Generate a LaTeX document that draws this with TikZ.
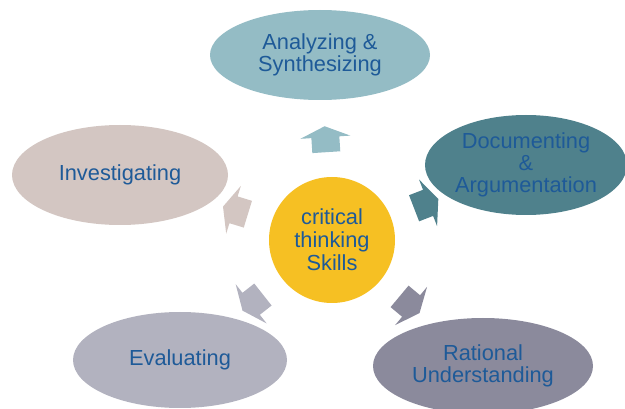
\documentclass[tikz,border=0pt]{standalone}
\usepackage{fontspec}
\setmainfont{Liberation Sans}
\usetikzlibrary{shapes.geometric,calc}

\definecolor{txtblue}{HTML}{1E5A98}
\definecolor{cAnalyze}{HTML}{94BCC5}
\definecolor{cDocument}{HTML}{4F818C}
\definecolor{cInvest}{HTML}{D3C6C2}
\definecolor{cEval}{HTML}{B2B2BF}
\definecolor{cRational}{HTML}{8B8A9C}
\definecolor{cCore}{HTML}{F6C023}

\tikzset{
  skill/.style={ellipse, inner sep=0pt, minimum width=#1, text=txtblue,
    align=center, font=\fontsize{21.8}{22}\selectfont},
  core/.style={circle, fill=cCore, minimum size=126pt, inner sep=0pt,
    text=txtblue, align=center, font=\fontsize{21.8}{23}\selectfont},
}

% block arrow pointing from node #1 towards node #2, filled with colour #3
\newcommand\outarrow[3]{%
  \path let \p1=(#1), \p2=(#2), \n1={atan2(\y2-\y1,\x2-\x1)} in
    \pgfextra{\xdef\arrang{\n1}};
  \fill[#3, shift={(#1)}, rotate=\arrang]
    (88,-14) -- (103,-14) -- (103,-25) -- (114,0) -- (103,25) -- (103,14)
    -- (88,14) -- cycle;
}

\begin{document}
\begin{tikzpicture}[x=1pt, y=-1pt]
  \useasboundingbox (0,0) rectangle (625,409);

  \node[core] (core) at (332,240) {critical\\thinking\\Skills};

  \node[skill=220pt, minimum height=90pt, fill=cAnalyze] (analyze) at (320,55)
    {Analyzing \&\\Synthesizing};
  \node[skill=202pt, minimum height=100pt, fill=cDocument] (document) at (526,165)
    {Documenting\\\&\\Argumentation};
  \node[skill=216pt, minimum height=100pt, fill=cInvest] (invest) at (120,175)
    {Investigating};
  \node[skill=214pt, minimum height=96pt, fill=cEval] (eval) at (180,360)
    {Evaluating};
  \node[skill=220pt, minimum height=96pt, fill=cRational] (rational) at (483,366)
    {Rational\\Understanding};

  \outarrow{core}{analyze}{cAnalyze}
  \outarrow{core}{document}{cDocument}
  \outarrow{core}{invest}{cInvest}
  \outarrow{core}{eval}{cEval}
  \outarrow{core}{rational}{cRational}
\end{tikzpicture}
\end{document}
